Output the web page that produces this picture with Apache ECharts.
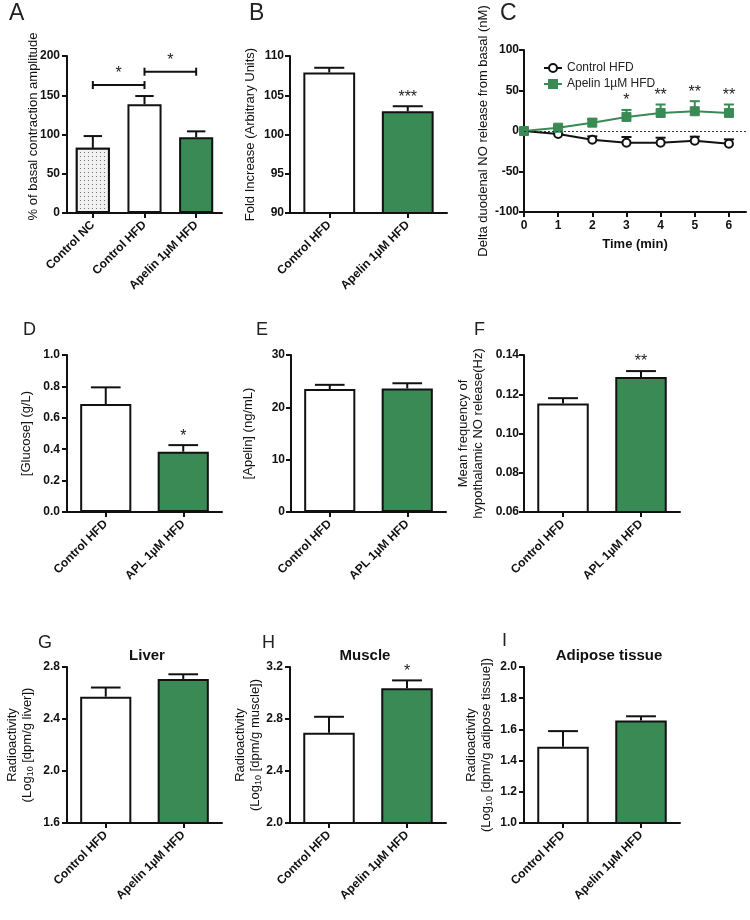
<!DOCTYPE html>
<html>
<head>
<meta charset="utf-8">
<script src="https://cdn.jsdelivr.net/npm/echarts@6/dist/echarts.min.js"></script>
<style>html,body{margin:0;padding:0;background:#fff;}#c{width:750px;height:920px;}</style>
</head>
<body>
<div id="c"></div>
<script>
// ---------- DATA ----------
const catsA = ['Control NC', 'Control HFD', 'Apelin 1µM HFD'];
const meanA = [83, 138.5, 96.5];
const semA = [15, 10.5, 7.5];
const sigA = ['', '', ''];
const bracketFromA = [0, 1];
const bracketToA = [1, 2];
const bracketLevelA = [163, 180];
const bracketSigA = ['*', '*'];

const catsHFD = ['Control HFD', 'Apelin 1µM HFD'];
const catsAPL = ['Control HFD', 'APL 1µM HFD'];

const meanB = [107.9, 102.95];
const semB = [0.6, 0.65];
const sigB = ['', '***'];

const timeC = [0, 1, 2, 3, 4, 5, 6];
const ctrlC = [0, -3.7, -10.7, -14.5, -14.5, -12, -15.7];
const ctrlSemC = [0, 1.5, 4.1, 7.1, 6.2, 5.0, 5.4];
const apelC = [0, 4.1, 10.3, 17.4, 22.3, 24.4, 22.3];
const apelSemC = [0, 1.5, 4.6, 8.6, 10.4, 12.4, 10.4];
const sigC = ['', '', '', '*', '**', '**', '**'];
const seriesNamesC = ['Control HFD', 'Apelin 1µM HFD'];

const meanD = [0.688, 0.384];
const semD = [0.106, 0.042];
const sigD = ['', '*'];

const meanE = [23.5, 23.6];
const semE = [0.8, 1.0];
const sigE = ['', ''];

const meanF = [0.1153, 0.1288];
const semF = [0.0027, 0.003];
const sigF = ['', '**'];

const meanG = [2.572, 2.708];
const semG = [0.07, 0.036];
const sigG = ['', ''];

const meanH = [2.694, 3.037];
const semH = [0.123, 0.06];
const sigH = ['', '*'];

const meanI = [1.489, 1.657];
const semI = [0.1, 0.027];
const sigI = ['', ''];

// ---------- STYLE ----------
const FONT = "'Liberation Sans', Arial, sans-serif";
const GREEN = '#3a8a56';
const INK = '#111';

const grids = [
  {left: 67, top: 56, width: 155, height: 157},   // A
  {left: 290, top: 56, width: 157, height: 157},  // B
  {left: 524, top: 50, width: 222, height: 162},  // C
  {left: 67, top: 355, width: 155, height: 157},  // D
  {left: 291, top: 355, width: 155, height: 157}, // E
  {left: 524, top: 355, width: 156, height: 157}, // F
  {left: 67, top: 667, width: 155, height: 156},  // G
  {left: 290, top: 667, width: 156, height: 156}, // H
  {left: 524, top: 667, width: 156, height: 156}  // I
];

const axisLineStyle = {show: true, onZero: false, lineStyle: {color: INK, width: 2}};
const axisTickStyle = {show: true, length: 5, lineStyle: {color: INK, width: 2}};

function valueY(gi, min, max, interval, name, gap, digits, extra, margin, namePad) {
  return Object.assign({
    gridIndex: gi, type: 'value', min: min, max: max, interval: interval,
    axisLine: axisLineStyle, axisTick: axisTickStyle,
    axisLabel: {color: INK, fontWeight: 'bold', fontSize: 12, fontFamily: FONT, margin: margin || 7,
      formatter: v => v.toFixed(digits)},
    splitLine: {show: false},
    name: name, nameLocation: 'middle', nameGap: gap, nameRotate: 90,
    nameTextStyle: {color: INK, fontSize: 13, fontFamily: FONT, lineHeight: 15, align: 'center',
      padding: namePad || 0}
  }, extra || {});
}
function catX(gi, cats) {
  return {
    gridIndex: gi, type: 'category', data: cats,
    axisLine: axisLineStyle,
    axisTick: Object.assign({alignWithLabel: true}, axisTickStyle),
    axisLabel: {color: INK, fontWeight: 'bold', fontSize: 12, fontFamily: FONT, rotate: 45, margin: 10, interval: 0},
    splitLine: {show: false}
  };
}
function barSeries(gi, means, colors, decals) {
  return {
    type: 'bar', xAxisIndex: gi, yAxisIndex: gi, barWidth: '66%', z: 2,
    data: means.map((v, i) => {
      const it = {value: v, itemStyle: {color: colors[i], borderColor: INK, borderWidth: 2}};
      if (decals && decals[i]) it.itemStyle.decal = decals[i];
      return it;
    })
  };
}
function errSeries(gi, means, sems, sigs, capRatio) {
  return {
    type: 'custom', xAxisIndex: gi, yAxisIndex: gi, z: 5, clip: false,
    data: means.map((m, i) => [i, m, m + sems[i]]),
    encode: {x: 0, y: [1, 2]},
    renderItem: function (params, api) {
      const x = api.value(0);
      const p0 = api.coord([x, api.value(1)]);
      const p1 = api.coord([x, api.value(2)]);
      const hw = api.size([1, 0])[0] * 0.66 * capRatio;
      const ch = [
        {type: 'line', shape: {x1: p0[0], y1: p0[1], x2: p1[0], y2: p1[1]}, style: {stroke: INK, lineWidth: 2}},
        {type: 'line', shape: {x1: p1[0] - hw, y1: p1[1], x2: p1[0] + hw, y2: p1[1]}, style: {stroke: INK, lineWidth: 2}}
      ];
      const s = sigs[params.dataIndex];
      if (s) ch.push({type: 'text', x: p1[0], y: p1[1] - 1,
        style: {text: s, fill: '#222', font: '16px ' + FONT, align: 'center', verticalAlign: 'bottom'}});
      return {type: 'group', children: ch};
    }
  };
}
function bracketSeries(gi) {
  return {
    type: 'custom', xAxisIndex: gi, yAxisIndex: gi, z: 5, clip: false,
    data: bracketFromA.map((f, i) => [f, bracketToA[i], bracketLevelA[i]]),
    encode: {x: [0, 1], y: 2},
    renderItem: function (params, api) {
      const a = api.coord([api.value(0), api.value(2)]);
      const b = api.coord([api.value(1), api.value(2)]);
      const st = {stroke: INK, lineWidth: 2};
      return {type: 'group', children: [
        {type: 'line', shape: {x1: a[0], y1: a[1], x2: b[0], y2: b[1]}, style: st},
        {type: 'line', shape: {x1: a[0], y1: a[1] - 4, x2: a[0], y2: a[1] + 4}, style: st},
        {type: 'line', shape: {x1: b[0], y1: b[1] - 4, x2: b[0], y2: b[1] + 4}, style: st},
        {type: 'text', x: (a[0] + b[0]) / 2, y: a[1] - 3,
          style: {text: bracketSigA[params.dataIndex], fill: '#222', font: '16px ' + FONT, align: 'center', verticalAlign: 'bottom'}}
      ]};
    }
  };
}
function lineErrSeries(gi, times, means, sems, color) {
  return {
    type: 'custom', xAxisIndex: gi, yAxisIndex: gi, z: 1, clip: false,
    data: times.map((t, i) => [t, means[i], means[i] + sems[i]]),
    encode: {x: 0, y: [1, 2]},
    renderItem: function (params, api) {
      const p0 = api.coord([api.value(0), api.value(1)]);
      const p1 = api.coord([api.value(0), api.value(2)]);
      const st = {stroke: color, lineWidth: 2};
      return {type: 'group', children: [
        {type: 'line', shape: {x1: p0[0], y1: p0[1], x2: p1[0], y2: p1[1]}, style: st},
        {type: 'line', shape: {x1: p1[0] - 5, y1: p1[1], x2: p1[0] + 5, y2: p1[1]}, style: st}
      ]};
    }
  };
}
function lineSigSeries(gi) {
  return {
    type: 'custom', xAxisIndex: gi, yAxisIndex: gi, z: 6, clip: false,
    data: timeC.map((t, i) => [t, apelC[i] + apelSemC[i]]),
    encode: {x: 0, y: 1},
    renderItem: function (params, api) {
      const s = sigC[params.dataIndex];
      if (!s) return null;
      const p = api.coord([api.value(0), api.value(1)]);
      return {type: 'text', x: p[0], y: p[1] - 1,
        style: {text: s, fill: '#222', font: '16px ' + FONT, align: 'center', verticalAlign: 'bottom'}};
    }
  };
}
function radioName(tissue) {
  return '{a|Radioactivity}\n{a|(Log}{b|10}{a| [dpm/g ' + tissue + '])}';
}
const radioRich = {
  a: {fontSize: 13, fontFamily: FONT, color: INK, lineHeight: 15},
  b: {fontSize: 9, fontFamily: FONT, color: INK, lineHeight: 9, verticalAlign: 'bottom'}
};

const letterStyle = (size) => ({fontSize: size, fontWeight: 'normal', color: '#222', fontFamily: FONT});
const titleStyle = {fontSize: 15, fontWeight: 'bold', color: INK, fontFamily: FONT};

const dotDecal = {symbol: 'rect', symbolSize: 1, dashArrayX: [1, 3], dashArrayY: [1, 3], color: '#777', backgroundColor: '#f1f1f1'};

const option = {
  animation: false,
  backgroundColor: '#fff',
  textStyle: {fontFamily: FONT},
  title: [
    {text: 'A', left: 9, top: 2, padding: 0, textStyle: letterStyle(23)},
    {text: 'B', left: 249, top: 2, padding: 0, textStyle: letterStyle(23)},
    {text: 'C', left: 500, top: 2, padding: 0, textStyle: letterStyle(23)},
    {text: 'D', left: 23, top: 321, padding: 0, textStyle: letterStyle(18)},
    {text: 'E', left: 256, top: 321, padding: 0, textStyle: letterStyle(18)},
    {text: 'F', left: 474, top: 321, padding: 0, textStyle: letterStyle(18)},
    {text: 'G', left: 38, top: 634, padding: 0, textStyle: letterStyle(18)},
    {text: 'H', left: 262, top: 634, padding: 0, textStyle: letterStyle(18)},
    {text: 'I', left: 502, top: 632, padding: 0, textStyle: letterStyle(18)},
    {text: 'Liver', left: 147, top: 648, textAlign: 'center', padding: 0, textStyle: titleStyle},
    {text: 'Muscle', left: 365, top: 648, textAlign: 'center', padding: 0, textStyle: titleStyle},
    {text: 'Adipose tissue', left: 609, top: 648, textAlign: 'center', padding: 0, textStyle: titleStyle}
  ],
  legend: {
    data: seriesNamesC, orient: 'vertical', left: 538, top: 57, itemGap: 4,
    itemWidth: 18, itemHeight: 10, textStyle: {fontSize: 12, color: '#222', fontFamily: FONT}
  },
  grid: grids.map(g => Object.assign({containLabel: false}, g)),
  xAxis: [
    catX(0, catsA),
    catX(1, catsHFD),
    {
      gridIndex: 2, type: 'value', min: 0, max: 6.5, interval: 1,
      axisLine: axisLineStyle,
      axisTick: Object.assign({customValues: timeC}, axisTickStyle),
      axisLabel: {color: INK, fontWeight: 'bold', fontSize: 12, fontFamily: FONT, margin: 8,
        customValues: timeC, formatter: v => (Number.isInteger(v) ? String(v) : '')},
      splitLine: {show: false},
      name: 'Time (min)', nameLocation: 'middle', nameGap: 26,
      nameTextStyle: {color: INK, fontWeight: 'bold', fontSize: 13, fontFamily: FONT}
    },
    catX(3, catsAPL),
    catX(4, catsAPL),
    catX(5, catsAPL),
    catX(6, catsHFD),
    catX(7, catsHFD),
    catX(8, catsHFD)
  ],
  yAxis: [
    valueY(0, 0, 200, 50, '% of basal contraction amplitude', 26, 0, {nameMoveOverlap: false}, 7, [0, 0, 0, 16]),
    valueY(1, 90, 110, 5, 'Fold Increase (Arbitrary Units)', 32, 0, null, 6),
    valueY(2, -100, 100, 50, 'Delta duodenal NO release from basal (nM)', 18, 0, null, 5),
    valueY(3, 0, 1, 0.2, '[Glucose] (g/L)', 33, 1),
    valueY(4, 0, 30, 10, '[Apelin] (ng/mL)', 35, 0, null, 6),
    valueY(5, 0.06, 0.14, 0.02, 'Mean frequency of\nhypothalamic NO release(Hz)', 38, 2, null, 5),
    valueY(6, 1.6, 2.8, 0.4, radioName('liver'), 32, 1,
      {nameTextStyle: {rich: radioRich, align: 'center'}}),
    valueY(7, 2.0, 3.2, 0.4, radioName('muscle'), 27, 1,
      {nameMoveOverlap: false, nameTextStyle: {rich: radioRich, align: 'center'}}),
    valueY(8, 1.0, 2.0, 0.2, radioName('adipose tissue'), 30, 1,
      {nameTextStyle: {rich: radioRich, align: 'center'}})
  ],
  series: [
    barSeries(0, meanA, ['#f1f1f1', '#ffffff', GREEN], [dotDecal, null, null]),
    errSeries(0, meanA, semA, sigA, 0.27),
    bracketSeries(0),
    barSeries(1, meanB, ['#ffffff', GREEN]),
    errSeries(1, meanB, semB, sigB, 0.29),
    lineErrSeries(2, timeC, ctrlC, ctrlSemC, INK),
    lineErrSeries(2, timeC, apelC, apelSemC, GREEN),
    {
      name: seriesNamesC[0], type: 'line', xAxisIndex: 2, yAxisIndex: 2, z: 3,
      data: timeC.map((t, i) => [t, ctrlC[i]]),
      symbol: 'circle', symbolSize: 8,
      lineStyle: {color: INK, width: 2},
      itemStyle: {color: '#fff', borderColor: INK, borderWidth: 2},
      markLine: {silent: true, symbol: 'none', label: {show: false},
        lineStyle: {type: [2, 2], color: '#333', width: 1}, data: [{yAxis: 0}]}
    },
    {
      name: seriesNamesC[1], type: 'line', xAxisIndex: 2, yAxisIndex: 2, z: 4,
      data: timeC.map((t, i) => [t, apelC[i]]),
      symbol: 'rect', symbolSize: 9,
      lineStyle: {color: GREEN, width: 2},
      itemStyle: {color: GREEN, borderColor: GREEN, borderWidth: 1}
    },
    lineSigSeries(2),
    barSeries(3, meanD, ['#ffffff', GREEN]),
    errSeries(3, meanD, semD, sigD, 0.29),
    barSeries(4, meanE, ['#ffffff', GREEN]),
    errSeries(4, meanE, semE, sigE, 0.29),
    barSeries(5, meanF, ['#ffffff', GREEN]),
    errSeries(5, meanF, semF, sigF, 0.29),
    barSeries(6, meanG, ['#ffffff', GREEN]),
    errSeries(6, meanG, semG, sigG, 0.29),
    barSeries(7, meanH, ['#ffffff', GREEN]),
    errSeries(7, meanH, semH, sigH, 0.29),
    barSeries(8, meanI, ['#ffffff', GREEN]),
    errSeries(8, meanI, semI, sigI, 0.29)
  ]
};

const chart = echarts.init(document.getElementById('c'), null, {renderer: 'canvas'});
chart.setOption(option);
</script>
</body>
</html>
